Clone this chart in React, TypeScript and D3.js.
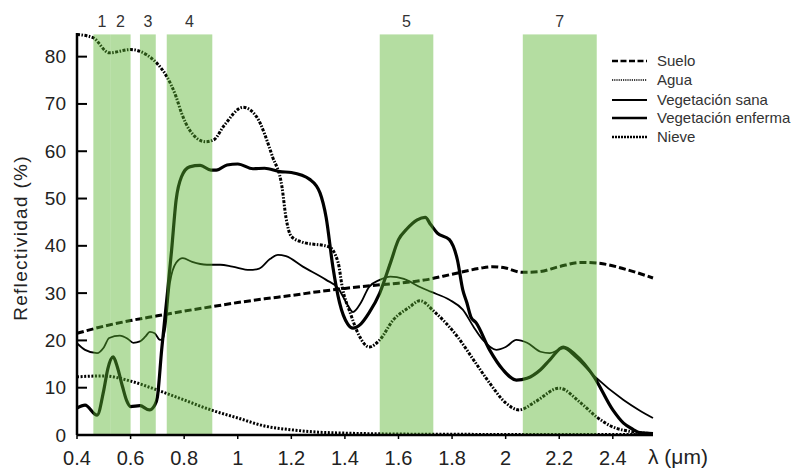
import React from "react";
import * as d3 from "d3";

const W = 798;
const H = 471;

// axis ticks
const xTicks = [0.4, 0.6, 0.8, 1, 1.2, 1.4, 1.6, 1.8, 2, 2.2, 2.4];
const xTickLabels = ["0.4", "0.6", "0.8", "1", "1.2", "1.4", "1.6", "1.8", "2", "2.2", "2.4"];
const yTicks = [0, 10, 20, 30, 40, 50, 60, 70, 80];

// Landsat TM bands
const bandLabels = ["1", "2", "3", "4", "5", "7"];
const bandStart = [0.461, 0.525, 0.635, 0.735, 1.53, 2.064];
const bandEnd = [0.525, 0.6, 0.694, 0.905, 1.73, 2.34];

// Suelo
const sueloX = [0.4, 0.5, 0.6, 0.7, 0.8, 0.9, 1.0, 1.1, 1.2, 1.3, 1.4, 1.5, 1.6, 1.7, 1.8, 1.9, 1.95, 2.0, 2.06, 2.12, 2.2, 2.28, 2.35, 2.45, 2.55];
const sueloY = [21.5, 23, 24.2, 25.2, 26.2, 27.1, 28, 28.8, 29.5, 30.3, 31, 31.6, 32.1, 32.8, 34, 35.2, 35.6, 35.3, 34.4, 34.5, 35.6, 36.5, 36.3, 35, 33.2];

// Agua
const aguaX = [0.4, 0.5, 0.6, 0.7, 0.8, 0.9, 1.0, 1.1, 1.2, 1.3, 1.4, 1.6, 1.8, 2.1, 2.55];
const aguaY = [12.3, 12.5, 11.4, 9.5, 7.4, 5.3, 3.6, 1.9, 1.1, 0.6, 0.4, 0.2, 0.15, 0.1, 0.1];

// Vegetación sana
const sanaX = [0.4, 0.43, 0.475, 0.5, 0.515, 0.535, 0.55, 0.57, 0.585, 0.6, 0.635, 0.67, 0.69, 0.7, 0.716, 0.735, 0.753, 0.77, 0.79, 0.82, 0.86, 0.9, 0.92, 0.96, 1.0, 1.057, 1.1, 1.157, 1.2, 1.27, 1.307, 1.33, 1.355, 1.38, 1.41, 1.43, 1.46, 1.49, 1.53, 1.57, 1.6, 1.63, 1.67, 1.7, 1.72, 1.745, 1.79, 1.82, 1.84, 1.855, 1.87, 1.89, 1.94, 1.99, 2.04, 2.08, 2.13, 2.165, 2.215, 2.26, 2.33, 2.4, 2.44, 2.475, 2.5, 2.55];
const sanaY = [5.7, 6.3, 4.2, 9.5, 14, 16.5, 14.5, 10.2, 7.3, 6, 6.2, 5.3, 6.3, 8, 18, 28.6, 39, 49.7, 54.6, 56.7, 57, 56, 56, 57.1, 57.3, 56.3, 56.4, 55.7, 55.5, 54, 51.2, 46, 35.6, 28, 23.5, 22.6, 23.5, 25.8, 30, 36.4, 41.3, 43.5, 45.5, 46, 44.5, 42.7, 41.3, 37, 30.7, 28, 25, 23.7, 18, 13.8, 11.6, 12, 13.8, 15.9, 18.6, 17, 12.3, 5.3, 2.5, 1.2, 0.5, 0.3];

// Vegetación enferma
const enfermaX = [0.4, 0.43, 0.475, 0.5, 0.52, 0.56, 0.59, 0.61, 0.635, 0.655, 0.672, 0.69, 0.71, 0.72, 0.73, 0.747, 0.77, 0.795, 0.83, 0.885, 0.935, 0.98, 1.045, 1.08, 1.12, 1.15, 1.18, 1.243, 1.33, 1.375, 1.41, 1.43, 1.46, 1.49, 1.53, 1.57, 1.62, 1.68, 1.72, 1.79, 1.84, 1.88, 1.915, 1.965, 2.0, 2.04, 2.08, 2.13, 2.165, 2.215, 2.26, 2.33, 2.44, 2.5, 2.55];
const enfermaY = [19.4, 18, 17.3, 18.5, 20.5, 21, 20.3, 19.5, 19.8, 20.8, 21.8, 21.5, 20.1, 20.3, 22.8, 32.2, 36.4, 37.4, 36.6, 36, 36, 35.6, 34.9, 35.2, 37.2, 38.1, 37.8, 35.6, 32.8, 31, 27.5, 26, 28, 31.3, 32.8, 33.5, 33, 31.3, 30.3, 28.6, 26.5, 22.9, 20.1, 18, 18.6, 20.1, 19.5, 17.6, 17.3, 18.3, 16.5, 12.5, 7.4, 5.2, 3.6];

// Nieve
const nieveX = [0.4, 0.46, 0.52, 0.6, 0.66, 0.7, 0.735, 0.77, 0.79, 0.82, 0.88, 0.91, 0.95, 1.02, 1.07, 1.13, 1.165, 1.18, 1.2, 1.24, 1.34, 1.375, 1.39, 1.42, 1.456, 1.49, 1.53, 1.58, 1.64, 1.68, 1.735, 1.82, 1.88, 1.94, 2.0, 2.05, 2.11, 2.2, 2.28, 2.34, 2.4, 2.46, 2.55];
const nieveY = [84.7, 84, 80.8, 81.5, 80.4, 78.5, 75.8, 71.5, 68.1, 64.5, 62, 62.4, 65.5, 69.3, 67.3, 58.8, 52.5, 46, 42, 40.8, 39.8, 36.4, 31.3, 25.8, 20.7, 18.6, 20.1, 24.3, 27, 28.4, 26, 20.8, 15.9, 11, 6.8, 5.3, 7, 9.9, 6.8, 3.8, 1.7, 0.8, 0.3];

const legendLabels = ["Suelo", "Agua", "Vegetación sana", "Vegetación enferma", "Nieve"];

const FONT = "'Liberation Sans', Arial, sans-serif";

type Style = { width: number; dash?: string };
const seriesStyle: Style[] = [
  { width: 3, dash: "7,3" },
  { width: 3, dash: "2,1.6" },
  { width: 3.2 },
  { width: 1.8 },
  { width: 3, dash: "3,1.5,1.5,1.5" },
];
const legendStyle: Style[] = [
  { width: 2.5, dash: "6,2.5" },
  { width: 1.5, dash: "1.2,1" },
  { width: 2 },
  { width: 2.5 },
  { width: 2.5, dash: "2,1" },
];

export default function App() {
  const x = d3.scaleLinear().domain([0.4, 2.55]).range([77, 653]);
  const y = d3.scaleLinear().domain([0, 85]).range([435, 33]);

  const series: [number[], number[]][] = [
    [sueloX, sueloY],
    [aguaX, aguaY],
    [sanaX, sanaY],
    [enfermaX, enfermaY],
    [nieveX, nieveY],
  ];

  const line = d3
    .line<[number, number]>()
    .x((d) => x(d[0]))
    .y((d) => y(d[1]))
    .curve(d3.curveMonotoneX);

  const legendRows = [61, 80, 100, 118, 137];

  return (
    <svg width={W} height={H} style={{ position: "absolute", left: 0, top: 0, background: "#fff" }}>
      <rect x={0} y={0} width={W} height={H} fill="#fff" />
      {/* curves */}
      {series.map(([xs, ys], i) => (
        <path
          key={i}
          d={line(xs.map((v, j) => [v, ys[j]] as [number, number])) || ""}
          fill="none"
          stroke="#000"
          strokeWidth={seriesStyle[i].width}
          strokeDasharray={seriesStyle[i].dash}
          strokeLinejoin="round"
        />
      ))}
      {/* bands */}
      {bandStart.map((s, i) => (
        <rect
          key={"b" + i}
          x={x(s)}
          y={y(84.7)}
          width={x(bandEnd[i]) - x(s)}
          height={y(0) - y(84.7)}
          fill="rgb(89,179,47)"
          fillOpacity={0.45}
        />
      ))}
      {bandStart.map((s, i) => (
        <text
          key={"bl" + i}
          x={x((s + bandEnd[i]) / 2)}
          y={27}
          textAnchor="middle"
          fontFamily={FONT}
          fontSize={16}
          fill="#333"
        >
          {bandLabels[i]}
        </text>
      ))}
      {/* axes */}
      <line x1={x(0.4)} x2={x(2.55)} y1={y(0)} y2={y(0)} stroke="#000" strokeWidth={2.5} />
      <line x1={x(0.4)} x2={x(0.4)} y1={y(0)} y2={y(85)} stroke="#000" strokeWidth={2.5} />
      {xTicks.map((t, i) => (
        <g key={"xt" + i}>
          <line x1={x(t)} x2={x(t)} y1={y(0)} y2={y(0) + 4} stroke="#000" strokeWidth={1.5} />
          <text x={x(t)} y={465} textAnchor="middle" fontFamily={FONT} fontSize={20} fill="#222">
            {xTickLabels[i]}
          </text>
        </g>
      ))}
      {yTicks.map((t, i) => (
        <g key={"yt" + i}>
          {t > 0 && <line x1={x(0.4)} x2={x(0.4) + 10} y1={y(t)} y2={y(t)} stroke="#000" strokeWidth={2} />}
          <text x={66} y={y(t) + 6.5} textAnchor="end" fontFamily={FONT} fontSize={19} fill="#222">
            {t}
          </text>
        </g>
      ))}
      <text x={648} y={464} fontFamily={FONT} fontSize={21} fill="#222">
        λ (μm)
      </text>
      <text
        transform={`translate(27,238) rotate(-90)`}
        textAnchor="middle"
        fontFamily={FONT}
        fontSize={19}
        letterSpacing={1.3}
        fill="#222"
      >
        Reflectividad (%)
      </text>
      {/* legend */}
      {legendLabels.map((lab, i) => (
        <g key={"lg" + i}>
          <line
            x1={612}
            x2={647}
            y1={legendRows[i]}
            y2={legendRows[i]}
            stroke="#000"
            strokeWidth={legendStyle[i].width}
            strokeDasharray={legendStyle[i].dash}
          />
          <text x={657} y={legendRows[i] + 5} fontFamily={FONT} fontSize={15} fill="#333">
            {lab}
          </text>
        </g>
      ))}
    </svg>
  );
}
